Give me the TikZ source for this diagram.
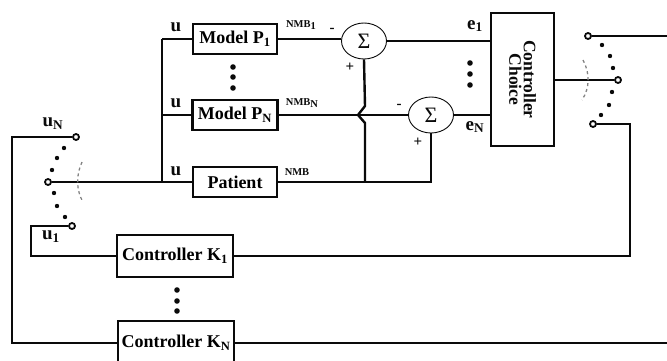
\documentclass[tikz,border=0pt]{standalone}
\usepackage{fontspec}
\setmainfont{Liberation Serif}
\usepackage{graphicx}
\usetikzlibrary{positioning,shapes.geometric}

\newcommand{\lowidx}[1]{\raisebox{-2.5pt}{#1}}

\begin{document}
\begin{tikzpicture}[x=1pt,y=-1pt,font=\bfseries,
    wire/.style={ink, line width=2.4pt},
    box/.style={draw=ink, line width=2.4pt, fill=white, inner sep=0pt, font=\fontsize{18}{18}\selectfont\bfseries},
    sumnode/.style={ellipse, draw=ink, line width=0.9pt, fill=white, minimum width=45pt, minimum height=36pt, inner sep=0pt},
    contact/.style={circle, draw=ink, fill=white, line width=1.8pt, inner sep=0pt, minimum size=6pt},
    lbl/.style={ink, font=\fontsize{19}{19}\selectfont\bfseries},
    tiny/.style={ink, font=\fontsize{10.5}{10.5}\selectfont\bfseries},
    sign/.style={ink, font=\fontsize{15}{15}\selectfont\bfseries}]
  \definecolor{ink}{RGB}{10,10,10}
  \definecolor{soft}{RGB}{130,130,130}
  \useasboundingbox (0,0) rectangle (667,361);

  % plant and models
  \node[box, minimum width=84pt, minimum height=30pt] (p1) at (235,39) {Model P\textsubscript{1}};
  \node[box, minimum width=85pt, minimum height=30pt] (pn) at (235,115) {Model P\textsubscript{N}};
  \node[box, minimum width=84pt, minimum height=30pt] (pat) at (235,182) {Patient};

  % comparators
  \node[sumnode] (s1) at (364,41) {};
  \node[ink, font=\fontsize{22}{22}\selectfont\mdseries] at (s1) {Σ};
  \node[sumnode] (s2) at (431,115) {};
  \node[ink, font=\fontsize{22}{22}\selectfont\mdseries] at (s2) {Σ};

  % choice block
  \node[box, minimum width=63pt, minimum height=133pt] (cc) at (522.5,79.5) {};
  \node[ink, rotate=-90, align=center, font=\fontsize{17.5}{14.5}\selectfont\bfseries] at (cc) {Controller\\Choice};

  % controllers
  \node[box, minimum width=116pt, minimum height=42pt] (k1) at (175,256) {Controller K\textsubscript{1}};
  \node[box, minimum width=116pt, minimum height=44pt] (kn) at (176,343) {Controller K\textsubscript{N}};

  % switch points
  \coordinate (bt) at (162,39);
  \coordinate (bm) at (162,115);
  \coordinate (bb) at (162,182);
  \coordinate (lturn) at (12,137);
  \coordinate (lbend) at (31,226);
  \coordinate (rdrop) at (630,124);
  \coordinate (rout) at (667,36);
  \coordinate (kout) at (667,343);
  \coordinate (hump) at (365,106);

  \draw[wire] (bb) -- (pat.west);
  \draw[wire] (bt) -- (bb);
  \draw[wire] (bt) -- (p1.west);
  \draw[wire] (bm) -- (pn.west);
  \draw[wire] (p1.east) -- (p1.east -| s1.west);
  \draw[wire] (pn.east) -- (s2.west);
  \draw[wire] (s1.south) -- (hump) -- ++(-7,9) -- ++(7,8) -- (hump |- pat.east);
  \draw[wire] (pat.east) -- (pat.east -| s2.south) -- (s2.south);
  \draw[wire] (s1.east) -- (s1.east -| cc.west);
  \draw[wire] (s2.east) -- (s2.east -| cc.west);

  \node[contact] (lc) at (48,182) {};
  \node[contact] (la) at (76,137) {};
  \node[contact] (lb) at (72,226) {};
  \node[contact] (rc) at (618,80) {};
  \node[contact] (ra) at (588,36) {};
  \node[contact] (rb) at (593,124) {};

  \draw[wire] (lc) -- (bb);
  \draw[wire] (la) -- (lturn) |- (kn.west);
  \draw[wire] (lb) -- (lbend) |- (k1.west);
  \draw[wire] (cc.east |- rc) -- (rc);
  \draw[wire] (ra) -- (rout);
  \draw[wire] (rb) -- (rdrop) |- (k1.east);
  \draw[wire] (kn.east) -- (kout);

  % switch arms
  \draw[soft, dashed, line width=1.3pt] (82,162) .. controls (76,175) and (76,190) .. (83,202);
  \draw[soft, dashed, line width=1.3pt] (583,60) .. controls (590,73) and (590,88) .. (582,100);
  \foreach \px/\py in {64/148, 57/158, 52/170, 54/193, 57/206, 65/217,
                       602/45, 610/56, 613/68, 612/92, 609/105, 601/115} {
    \fill[ink] (\px,\py) circle (2.2pt);
  }

  % ellipsis marks
  \foreach \py in {67,77,88} { \fill[ink] (233,\py) circle (2.8pt); }
  \foreach \py in {63,74,85} { \fill[ink] (470,\py) circle (2.8pt); }
  \foreach \py in {290,301,311} { \fill[ink] (177,\py) circle (2.8pt); }

  % labels
  \node[lbl] at (176,27) {u};
  \node[lbl] at (176,103) {u};
  \node[lbl] at (176,171) {u};
  \node[lbl] at (53,124) {u\textsubscript{N}};
  \node[lbl] at (51,237) {u\textsubscript{1}};
  \node[lbl] at (475,26) {e\textsubscript{1}};
  \node[lbl] at (475,127) {e\textsubscript{N}};
  \node[tiny] at (301,25) {NMB\lowidx{1}};
  \node[tiny] at (302,103) {NMB\lowidx{N}};
  \node[tiny] at (297,172) {NMB};
  \node[sign] at (332,30) {-};
  \node[sign] at (350,67) {+};
  \node[sign] at (399,106) {-};
  \node[sign] at (418,142) {+};
\end{tikzpicture}
\end{document}
